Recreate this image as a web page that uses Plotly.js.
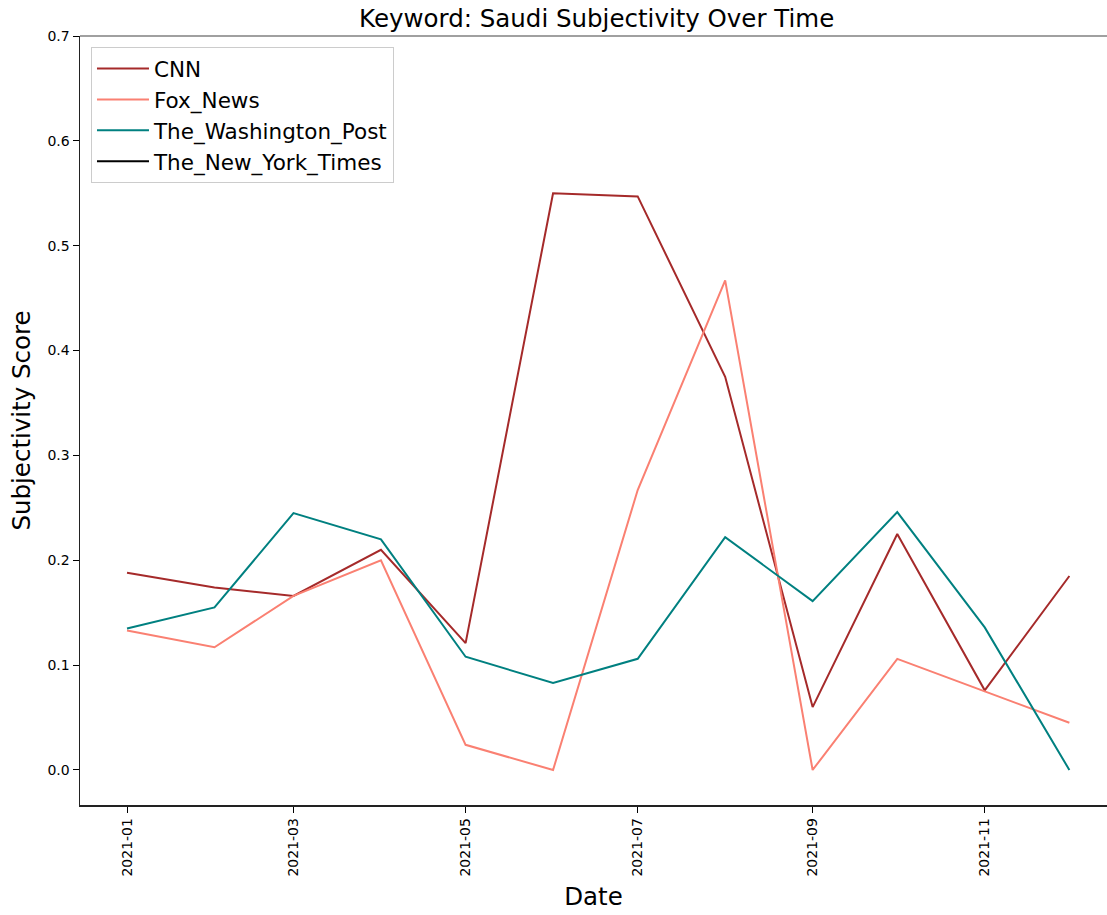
<!DOCTYPE html>
<html>
<head>
<meta charset="utf-8">
<script src="https://cdn.plot.ly/plotly-3.0.1.min.js"></script>
<style>html,body{margin:0;padding:0;background:#fff;}#chart{width:1107px;height:915px;}</style>
</head>
<body>
<div id="chart"></div>
<script>
const months = ["2021-01-01","2021-02-01","2021-03-01","2021-04-01","2021-05-01","2021-06-01",
                "2021-07-01","2021-08-01","2021-09-01","2021-10-01","2021-11-01","2021-12-01"];
const cnn  = [0.188, 0.174, 0.166, 0.210, 0.121, 0.550, 0.547, 0.375, 0.060, 0.225, 0.076, 0.185];
const fox  = [0.133, 0.117, 0.166, 0.200, 0.024, 0.000, 0.267, 0.467, 0.000, 0.106, 0.075, 0.045];
const wapo = [0.135, 0.155, 0.245, 0.220, 0.108, 0.083, 0.106, 0.222, 0.161, 0.246, 0.136, 0.000];
const nyt  = [null, null, null, null, null, null, null, null, null, null, null, null];
const names = ["CNN", "Fox_News", "The_Washington_Post", "The_New_York_Times"];
const colors = ["#a52a2a", "#fa8072", "#008080", "#000000"];
const series = [cnn, fox, wapo, nyt];

const traces = series.map((s, i) => ({
  x: months, y: s, type: "scatter", mode: "lines", name: names[i],
  legendgroup: "g" + i,
  line: {color: colors[i], width: 2}
}));

const fam = "DejaVu Sans, sans-serif";
const layout = {
  width: 1107, height: 915,
  margin: {l: 80, r: 0, t: 36, b: 110},
  paper_bgcolor: "#fff", plot_bgcolor: "#fff",
  font: {family: fam, color: "#000"},
  showlegend: true,
  title: {text: "Keyword: Saudi Subjectivity Over Time", font: {size: 24.5, family: fam, color: "#000"},
          xref: "container", x: 0.539, xanchor: "center", yref: "container", y: 1 - 18/915, yanchor: "middle"},
  xaxis: {
    type: "date", range: ["2020-12-15 08:00", "2021-12-14 08:00"],
    tick0: "2021-01-01", dtick: "M2", tickformat: "%Y-%m", tickangle: -90,
    ticks: "outside", ticklen: 6, tickwidth: 1, tickcolor: "#000",
    tickfont: {size: 14, family: fam, color: "#000"},
    showgrid: false, zeroline: false, showline: true, linecolor: "#222", linewidth: 1.5,
    title: {text: "Date", font: {size: 24.5, family: fam, color: "#000"}, standoff: 12}
  },
  yaxis: {
    range: [-0.0334, 0.7], tickvals: [0, 0.1, 0.2, 0.3, 0.4, 0.5, 0.6, 0.7], tickformat: ".1f",
    ticks: "outside", ticklen: 6, tickwidth: 1, tickcolor: "#000",
    tickfont: {size: 14, family: fam, color: "#000"},
    showgrid: false, zeroline: false, showline: true, linecolor: "#222", linewidth: 1.5,
    title: {text: "Subjectivity Score", font: {size: 24.5, family: fam, color: "#000"}, standoff: 10}
  },
  shapes: [{type: "line", xref: "paper", yref: "paper", x0: 0, x1: 1, y0: 1, y1: 1,
            line: {color: "#808080", width: 1.5}}],
  legend: {
    x: 0.0107, y: 0.9857, xanchor: "left", yanchor: "top",
    bgcolor: "rgba(255,255,255,0.9)", bordercolor: "#cccccc", borderwidth: 1,
    font: {size: 21.5, family: fam, color: "#000"},
    itemwidth: 52,
    tracegroupgap: 0
  }
};

Plotly.newPlot("chart", traces, layout, {displayModeBar: false, staticPlot: true});
</script>
</body>
</html>
